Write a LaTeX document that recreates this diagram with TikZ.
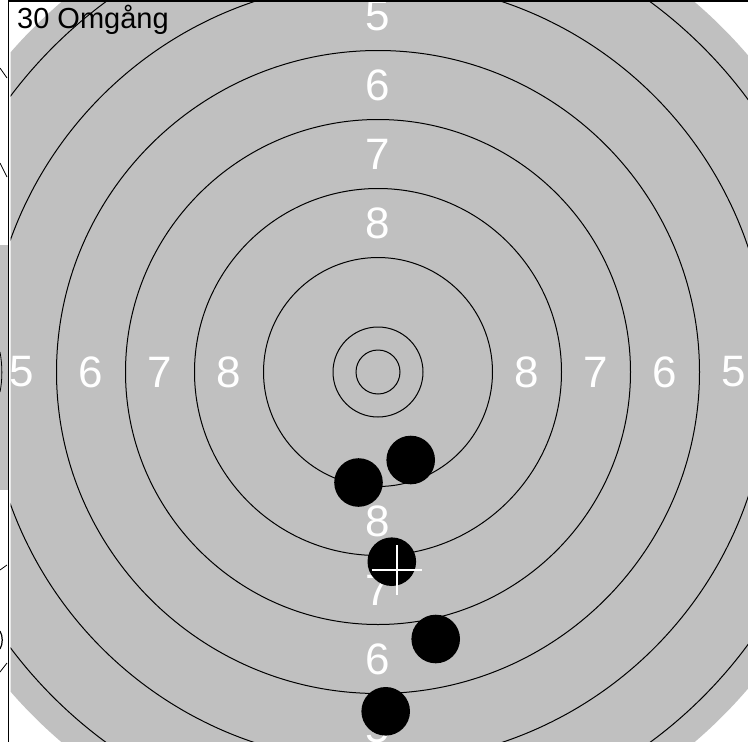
\documentclass[tikz,border=0pt]{standalone}
\usepackage{fontspec}
\setmainfont{Liberation Sans}
\usetikzlibrary{positioning}
\definecolor{TargetGrey}{HTML}{C0C0C0}
\tikzset{ring/.style={draw=black,line width=1pt},
 score/.style={text=white,font=\fontsize{44}{44}\selectfont,inner sep=0pt},
 shot/.style={circle,fill=black,minimum size=48.6pt,inner sep=0pt},
 aim/.style={draw=white,line width=2pt},
 frame/.style={draw=black,line width=1.5pt}}
\begin{document}
\begin{tikzpicture}[x=1pt,y=-1pt]
\useasboundingbox[fill=white] (0,0) rectangle (748,742);
% edge of the next panel
\fill[TargetGrey] (0,245) rectangle (7.5,490);
\draw[line width=.8pt] (0,68)--(7,78) (0,163)--(7,177) (0,570)--(7,565) (0,672)--(7,663);
\draw[line width=.8pt] (0,352) .. controls (2.5,365) and (2.5,380) .. (0,392);
\draw[line width=1.2pt] (0,631) .. controls (3,636) and (3,644) .. (0,649);
\draw[frame] (8.3,0)--(8.3,742);
\draw[frame] (8.3,.8)--(748,.8);
\begin{scope}
\clip (10.5,2.5) rectangle (748,742);
\coordinate (ctr) at (378,372);
\fill[TargetGrey] (ctr) circle (487);
\foreach \r in {22,45,114.5,183.5,252.5,321.5,390.5,459.5}
 \draw[ring] (ctr) circle (\r);
\foreach \n/\d in {8/149,7/218,6/287,5/356}{
 \node[score] (l\n) at (378-\d,372){\n};
 \node[score] (r\n) at (378+\d,372){\n};
 \node[score] (t\n) at (378,372-\d){\n};
 \node[score] (b\n) at (378,372+\d){\n};
}
\foreach \i/\x/\y in {1/410.7/460,2/358.5/482.5,3/391.8/561.7,4/435.7/639,5/385.7/711.3}
 \node[shot] (hit\i) at (\x,\y){};
\coordinate (mpi) at (396.7,570.3);
\draw[aim] ([yshift=25pt]mpi)--([yshift=-25pt]mpi);
\draw[aim] ([xshift=-25pt]mpi)--([xshift=25pt]mpi);
\end{scope}
\node[anchor=base west,inner sep=0pt,font=\fontsize{29}{29}\selectfont] (title) at (17,28){30 Omgång};
\end{tikzpicture}
\end{document}
